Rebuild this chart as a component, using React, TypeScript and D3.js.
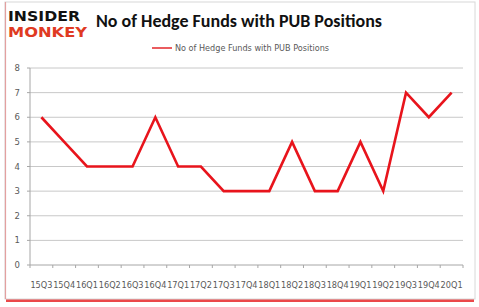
import React from "react";
import * as d3 from "d3";

const categories = ["15Q3","15Q4","16Q1","16Q2","16Q3","16Q4","17Q1","17Q2","17Q3","17Q4","18Q1","18Q2","18Q3","18Q4","19Q1","19Q2","19Q3","19Q4","20Q1"];
const values = [6,5,4,4,4,6,4,4,3,3,3,5,3,3,5,3,7,6,7];
const yTicks = [0,1,2,3,4,5,6,7,8];
const title = "No of Hedge Funds with PUB Positions";
const seriesName = "No of Hedge Funds with PUB Positions";

export default function App() {
  const W = 479, H = 307;
  const left = 30, right = 463, top = 68, bottom = 265;
  const x = d3.scaleBand<string>().domain(categories).range([left, right]);
  const y = d3.scaleLinear().domain([0, 8]).range([bottom, top]);
  const line = d3.line<number>()
    .x((_, i) => (x(categories[i]) as number) + x.bandwidth() / 2)
    .y(d => y(d));
  const font = "Calibri, Carlito, 'Open Sans', 'DejaVu Sans', sans-serif";
  const tickFont = "Verdana, 'DejaVu Sans', sans-serif";
  return (
    <svg width={W} height={H} style={{ position: "absolute", left: 0, top: 0 }}>
      <rect x={0} y={0} width={W} height={H} fill="#fff" />
      <rect x={6} y={298} width={468} height={4} fill="#e8282a" opacity={0.85} />
      <rect x={5} y={2} width={470} height={297} fill="#fff" stroke="#d8d8d8" strokeWidth={1} />
      <line x1={5.5} y1={2} x2={5.5} y2={299} stroke="#e3a0a0" strokeWidth={1.2} />
      {/* logo */}
      <text x={8} y={21} fontFamily="'DejaVu Sans', sans-serif" fontWeight={900} fontSize={13.5} fill="#111" textLength={72} lengthAdjust="spacingAndGlyphs">INSIDER</text>
      <text x={8} y={37} fontFamily="'DejaVu Sans', sans-serif" fontWeight={900} fontSize={13.5} fill="#e03a22" textLength={79} lengthAdjust="spacingAndGlyphs">MONKEY</text>
      <text x={96} y={27} fontFamily={font} fontSize={17.5} fontWeight={600} fill="#111" textLength={286} lengthAdjust="spacingAndGlyphs">{title}</text>
      {/* legend */}
      <line x1={152} y1={48} x2={172} y2={48} stroke="#e3262a" strokeWidth={1.5} />
      <text x={175} y={51} fontFamily={tickFont} fontSize={8} fill="#595959" textLength={154} lengthAdjust="spacingAndGlyphs">{seriesName}</text>
      {/* grid */}
      {yTicks.map(t => (
        <g key={t}>
          <line x1={left} x2={right} y1={y(t)} y2={y(t)} stroke={t === 0 ? "#a6a6a6" : "#c8c8c8"} strokeWidth={1} />
          <line x1={left - 3} x2={left} y1={y(t)} y2={y(t)} stroke="#a6a6a6" />
          <text x={20} y={y(t) + 3} textAnchor="end" fontFamily={tickFont} fontSize={8.5} fill="#595959">{t}</text>
        </g>
      ))}
      <line x1={left} x2={left} y1={top} y2={bottom} stroke="#a6a6a6" />
      {categories.map((c, i) => (
        <g key={c}>
          <line x1={(x(c) as number)} x2={(x(c) as number)} y1={bottom} y2={bottom + 3} stroke="#a6a6a6" />
          <text x={(x(c) as number) + x.bandwidth() / 2} y={288} textAnchor="middle" fontFamily={tickFont} fontSize={8.5} fill="#595959" textLength={22} lengthAdjust="spacingAndGlyphs">{c}</text>
        </g>
      ))}
      <line x1={right} x2={right} y1={bottom} y2={bottom + 3} stroke="#a6a6a6" />
      <path d={line(values) || ""} fill="none" stroke="#e8141c" strokeWidth={2.6} strokeLinejoin="miter" />
    </svg>
  );
}
